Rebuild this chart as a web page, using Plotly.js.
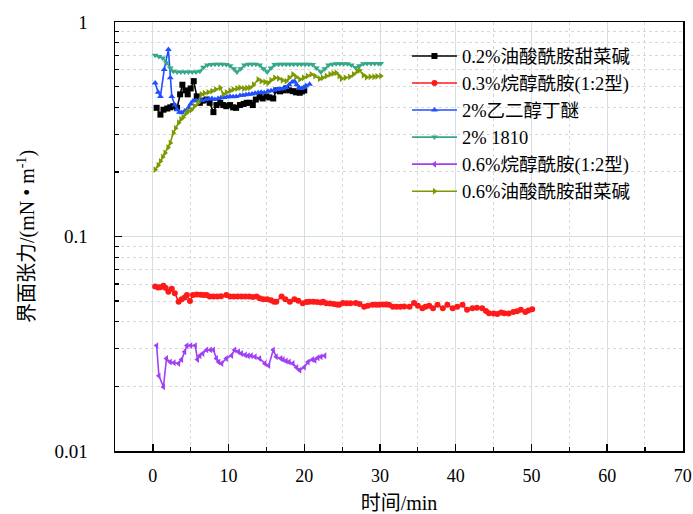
<!DOCTYPE html>
<html>
<head>
<meta charset="utf-8">
<script src="https://cdn.plot.ly/plotly-3.0.1.min.js"></script>
<style>html,body{margin:0;padding:0;background:#fff;}#chart{width:693px;height:514px;}</style>
</head>
<body>
<div id="chart"></div>
<script>
// ---- series names ----
const seriesNames = ["0.2%油酸酰胺甜菜碱", "0.3%烷醇酰胺(1:2型)", "2%乙二醇丁醚", "2% 1810", "0.6%烷醇酰胺(1:2型)", "0.6%油酸酰胺甜菜碱"];

// ---- 0.2% 油酸酰胺甜菜碱 ----
const blackT = [0.5,1.0,1.4,1.9,2.3,2.7,3.2,3.6,3.9,4.3,4.6,5.0,5.4,5.8,6.2,6.6,7.1,7.5,8.0,8.4,8.9,9.3,9.7,10.2,10.6,11.0,11.5,12.0,12.4,12.8,13.2,13.6,14.1,14.5,15.0,15.4,15.9,16.3,16.8,17.2,17.6,18.0,18.5,18.9,19.4,19.7,20.0];
const blackV = [0.398,0.37,0.39,0.395,0.40,0.405,0.398,0.46,0.51,0.48,0.46,0.49,0.53,0.45,0.42,0.43,0.435,0.42,0.38,0.41,0.42,0.41,0.405,0.41,0.40,0.398,0.41,0.415,0.42,0.42,0.41,0.435,0.448,0.44,0.45,0.445,0.44,0.48,0.475,0.48,0.49,0.48,0.476,0.47,0.468,0.475,0.48];

// ---- 0.3% 烷醇酰胺(1:2型) ----
const redT = [0.3,0.7,1.0,1.4,1.7,2.05,2.5,2.9,3.4,3.8,4.2,4.5,4.9,5.3,5.8,6.3,6.7,7.1,7.5,8.0,8.5,9.0,9.7,10.2,10.7,11.2,11.7,12.2,12.7,13.2,13.7,14.1,14.6,15.1,15.6,16.0,16.3,17.0,17.5,18.1,18.7,19.2,19.8,20.3,20.7,21.2,21.7,22.2,22.5,22.9,23.4,23.9,24.3,24.6,25.1,25.6,26.1,26.8,27.3,27.9,28.4,29.0,29.5,29.9,30.4,30.8,31.2,31.7,32.2,32.7,33.2,33.9,34.5,35.0,35.6,36.0,36.5,37.0,37.6,38.3,38.9,39.6,40.2,40.9,41.5,42.2,42.8,43.5,44.0,44.4,45.0,45.5,46.0,46.4,47.0,47.6,48.1,48.6,49.2,49.6,50.1];
const redV = [0.0584,0.0578,0.058,0.0589,0.0575,0.0553,0.057,0.0544,0.0497,0.051,0.052,0.0534,0.050,0.0534,0.0536,0.0535,0.0534,0.0534,0.0525,0.0525,0.0525,0.0526,0.0534,0.0525,0.0525,0.0525,0.0525,0.0525,0.0525,0.0522,0.0525,0.0515,0.051,0.051,0.0505,0.0497,0.0497,0.0525,0.051,0.0497,0.051,0.0502,0.0489,0.0495,0.0497,0.0497,0.0495,0.0492,0.0497,0.0489,0.0487,0.0485,0.0482,0.048,0.049,0.0489,0.0489,0.049,0.0485,0.0471,0.0475,0.048,0.048,0.048,0.0482,0.0482,0.048,0.0471,0.0471,0.0471,0.0472,0.0471,0.049,0.0475,0.0463,0.047,0.0475,0.0463,0.048,0.0463,0.048,0.0463,0.047,0.048,0.0455,0.0463,0.0465,0.0463,0.045,0.0439,0.0437,0.0435,0.0442,0.0439,0.0437,0.0445,0.0448,0.0455,0.0445,0.0452,0.0458];

// ---- 2% 乙二醇丁醚 ----
const blueT = [0.3,0.7,1.0,1.5,2.05,2.3,2.5,2.9,3.2,3.5,3.8,4.2,4.7,5.0,5.3,5.7,6.1,6.5,7.0,7.4,7.8,8.2,8.6,9.0,9.4,9.8,10.2,10.6,11.0,11.5,11.9,12.3,12.7,13.1,13.5,13.9,14.3,14.7,15.2,15.6,16.0,16.4,16.8,17.2,17.6,18.0,18.4,18.7,19.0,19.3,19.6,19.9,20.2,20.7];
const blueV = [0.52,0.47,0.45,0.60,0.745,0.55,0.45,0.41,0.39,0.38,0.377,0.385,0.398,0.415,0.428,0.43,0.432,0.43,0.435,0.437,0.44,0.435,0.44,0.443,0.445,0.447,0.45,0.448,0.45,0.454,0.455,0.458,0.46,0.462,0.465,0.468,0.47,0.468,0.476,0.478,0.48,0.484,0.487,0.489,0.495,0.51,0.525,0.53,0.51,0.495,0.49,0.495,0.505,0.512];

// ---- 2% 1810 ----
const tealT = [0.3,0.8,1.3,1.8,2.3,2.7,3.2,3.7,4.2,4.7,5.2,5.7,6.2,6.7,7.2,7.7,8.2,8.7,9.2,9.7,10.2,10.7,11.1,11.6,12.1,12.6,13.1,13.6,14.1,14.6,15.1,15.6,16.1,16.6,17.1,17.6,18.1,18.6,19.1,19.6,20.1,20.6,21.1,21.6,22.2,22.7,23.2,23.7,24.2,24.7,25.2,25.7,26.2,26.8,27.3,27.8,28.3,28.8,29.3,29.8,30.1];
const tealV = [0.70,0.69,0.68,0.646,0.61,0.59,0.585,0.584,0.584,0.584,0.584,0.585,0.59,0.615,0.63,0.634,0.636,0.636,0.636,0.634,0.625,0.605,0.585,0.605,0.63,0.636,0.636,0.636,0.63,0.605,0.585,0.61,0.634,0.636,0.636,0.636,0.636,0.636,0.636,0.636,0.636,0.636,0.634,0.61,0.585,0.605,0.63,0.636,0.638,0.638,0.638,0.638,0.63,0.612,0.625,0.638,0.64,0.64,0.64,0.64,0.64];

// ---- 0.6% 烷醇酰胺(1:2型) ----
const purpleT = [0.5,0.8,1.4,1.8,2.3,2.8,3.4,3.8,4.2,4.5,5.0,5.6,5.9,6.2,6.6,7.1,7.6,8.0,8.4,8.7,9.1,9.7,10.4,10.8,11.3,11.7,12.2,12.6,13.0,13.5,14.1,14.8,15.3,15.9,16.3,16.9,17.2,17.6,18.0,18.5,19.0,19.4,20.0,20.5,21.1,21.4,21.8,22.2,22.7];
const purpleV = [0.031,0.0224,0.0199,0.027,0.026,0.0258,0.0256,0.0267,0.029,0.031,0.031,0.031,0.0267,0.0278,0.0285,0.0296,0.0296,0.0296,0.027,0.026,0.0256,0.027,0.0279,0.0296,0.029,0.0285,0.028,0.0278,0.0278,0.0275,0.027,0.0256,0.025,0.0296,0.0275,0.027,0.0267,0.0263,0.026,0.0256,0.0245,0.0238,0.0246,0.026,0.0267,0.0265,0.0272,0.0275,0.0278];

// ---- 0.6% 油酸酰胺甜菜碱 ----
const oliveT = [0.3,0.7,1.0,1.3,1.6,2.0,2.3,2.7,3.0,3.4,3.7,4.0,4.4,4.7,5.1,5.5,6.0,6.4,6.8,7.3,7.8,8.3,8.9,9.3,9.7,10.2,10.6,11.1,11.5,12.0,12.4,12.8,13.3,13.9,14.3,14.8,15.2,15.6,16.1,16.6,17.1,17.6,18.0,18.5,18.9,19.4,19.9,20.4,20.9,21.4,22.0,22.4,22.9,23.4,23.8,24.2,24.6,24.9,25.4,26.0,26.5,27.0,27.3,27.8,28.2,28.7,29.2,29.6,30.1];
const oliveV = [0.205,0.215,0.224,0.235,0.245,0.26,0.273,0.304,0.32,0.339,0.352,0.36,0.375,0.384,0.39,0.405,0.42,0.46,0.465,0.47,0.476,0.485,0.494,0.46,0.47,0.478,0.485,0.49,0.494,0.49,0.492,0.494,0.51,0.54,0.53,0.525,0.52,0.535,0.55,0.545,0.535,0.53,0.55,0.57,0.555,0.54,0.55,0.56,0.57,0.56,0.544,0.55,0.56,0.57,0.575,0.58,0.56,0.544,0.55,0.555,0.57,0.59,0.595,0.565,0.553,0.555,0.556,0.558,0.56];

// ---- axis ticks ----
const xTickVals = [0,10,20,30,40,50,60,70];
const xTickText = ["0","10","20","30","40","50","60","70"];
const xMinorVals = [5,15,25,35,45,55,65];
const yTickVals = [0.01,0.1,1];
const yTickText = ["0.01","0.1","1"];
const yMinorVals = [0.02,0.03,0.04,0.05,0.06,0.07,0.08,0.09,0.2,0.3,0.4,0.5,0.6,0.7,0.8,0.9];

const colors = ["#000000","#ff1a1a","#1f4fff","#33a88a","#a040f5","#7a9a00"];
const symbols = ["square","circle","triangle-up","triangle-down","triangle-left","triangle-right"];
const xs = [blackT, redT, blueT, tealT, purpleT, oliveT];
const ys = [blackV, redV, blueV, tealV, purpleV, oliveV];

const FONT = "Liberation Serif, Noto Sans CJK SC, serif";

const traces = seriesNames.map((n, i) => ({
  type: "scatter",
  mode: "lines+markers",
  name: n,
  x: xs[i],
  y: ys[i],
  line: {color: colors[i], width: 1.6},
  marker: {symbol: symbols[i], size: 6, color: colors[i]}
}));

const layout = {
  width: 693, height: 514,
  margin: {l: 115, r: 10, t: 22, b: 63},
  paper_bgcolor: "#ffffff",
  plot_bgcolor: "#ffffff",
  font: {family: FONT, color: "#000", size: 19},
  showlegend: true,
  legend: {
    x: 0.514, y: 0.964, xanchor: "left", yanchor: "top",
    bgcolor: "rgba(0,0,0,0)", borderwidth: 0,
    font: {family: FONT, size: 18.5, color: "#000"},
    itemwidth: 45, tracegroupgap: 0
  },
  xaxis: {
    type: "linear", range: [-5, 70.02],
    tickmode: "array", tickvals: xTickVals, ticktext: xTickText,
    ticks: "inside", ticklen: 7, tickwidth: 1.5, tickcolor: "#000",
    showline: true, linecolor: "#000", linewidth: 1.5, mirror: true,
    showgrid: true, gridcolor: "#d5dee3", gridwidth: 1,
    zeroline: false,
    ticklabelstandoff: 8,
    ticklabeloverflow: "allow",
    tickfont: {family: FONT, size: 18},
    minor: {tickvals: xMinorVals, ticks: "inside", ticklen: 4, tickwidth: 1.2, tickcolor: "#000", showgrid: true, gridcolor: "#d8d8d8", griddash: "dot", gridwidth: 1},
    title: {text: "时间/min", font: {family: FONT, size: 20}, standoff: 12}
  },
  yaxis: {
    type: "log", range: [-2, 0],
    tickmode: "array", tickvals: yTickVals, ticktext: yTickText,
    ticks: "inside", ticklen: 7, tickwidth: 1.5, tickcolor: "#000",
    showline: true, linecolor: "#000", linewidth: 1.5, mirror: true,
    showgrid: true, gridcolor: "#d5dee3", gridwidth: 1,
    zeroline: false,
    ticklabelstandoff: 22,
    tickfont: {family: FONT, size: 19},
    minor: {tickvals: yMinorVals, ticks: "inside", ticklen: 4, tickwidth: 1.2, tickcolor: "#000", showgrid: true, gridcolor: "#d8d8d8", griddash: "dot", gridwidth: 1},
    title: {text: "界面张力/(mN • m<sup>-1</sup>)", font: {family: FONT, size: 20}, standoff: 14}
  }
};

Plotly.newPlot("chart", traces, layout, {displayModeBar: false, staticPlot: true});
</script>
</body>
</html>
